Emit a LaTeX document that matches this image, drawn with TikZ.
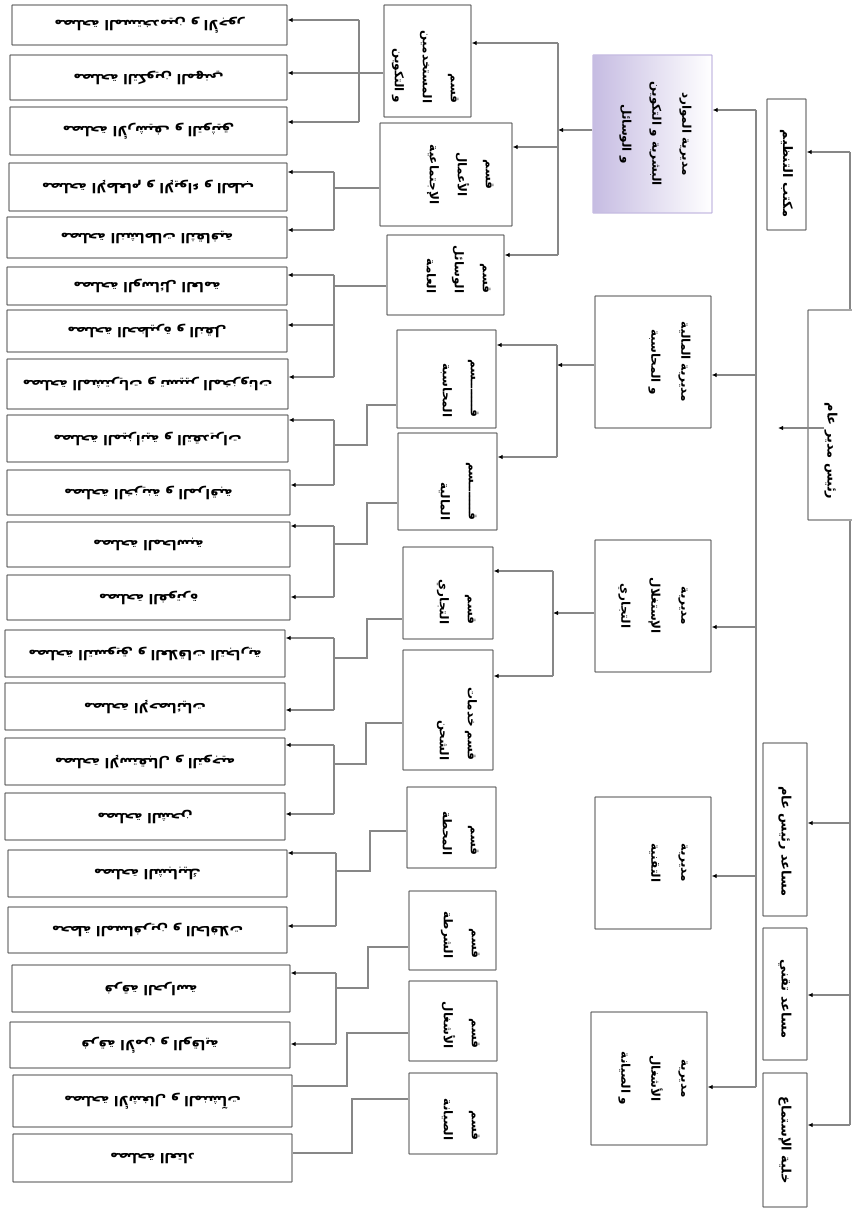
\documentclass[tikz,border=0pt]{standalone}
\usepackage{fontspec}
\usepackage{graphicx}
\usepackage{xcolor}
\usetikzlibrary{arrows.meta}
\newfontfamily\arabicfont[Script=Arabic]{DejaVu Sans}
\TeXXeTstate=1
\newcommand{\ar}[1]{\beginR#1\endR}
\newcommand{\vtext}[2]{\rotatebox{-90}{\begin{tabular}{@{}#1@{}}#2\end{tabular}}}
\definecolor{boxgray}{RGB}{120,120,120}
\definecolor{linegray}{RGB}{135,135,135}
\definecolor{lavender}{RGB}{198,188,226}

\begin{document}
\begin{tikzpicture}[x=1pt, y=-1pt,
    box/.style={draw=boxgray, line width=1.3pt, fill=white, inner sep=0pt, rounded corners=0.6pt},
    sv/.style={box, font=\arabicfont\bfseries\fontsize{13.5}{15}\selectfont},
    lnk/.style={draw=linegray, line width=1.3pt},
    arr/.style={lnk, -{Latex[color=black, length=5pt, width=4.5pt]}},
    t1/.style={inner sep=0pt, font=\arabicfont\bfseries\fontsize{13}{15}\selectfont},
    t2/.style={inner sep=0pt, font=\arabicfont\bfseries\fontsize{12}{30}\selectfont},
    t3/.style={inner sep=0pt, font=\arabicfont\bfseries\fontsize{12}{28}\selectfont}]
  \useasboundingbox (0,0) rectangle (851,1209);

  % general management
  \node[box, minimum width=39, minimum height=131] (oOrg) at (786.5,164.5) {};
  \node[box, minimum width=62, minimum height=210] (oCEO) at (839,415) {};
  \node[box, minimum width=44, minimum height=173] (oAsst1) at (785,829.5) {};
  \node[box, minimum width=44, minimum height=132] (oAsst2) at (785,994) {};
  \node[box, minimum width=44, minimum height=134] (oCell) at (785,1140) {};
  \node[t1] (tOrg) at ([yshift=-9pt]oOrg.center) {\rotatebox{-90}{\ar{مكتب التنظيم}}};
  \node[t1] (tCEO) at ([xshift=-8pt,yshift=-36pt]oCEO.center) {\rotatebox{-90}{\ar{رئيس مدير عام}}};
  \node[t1] (tAsst1) at ([yshift=-12pt]oAsst1.center) {\rotatebox{-90}{\ar{مساعد رئيس عام}}};
  \node[t1] (tAsst2) at ([yshift=-5pt]oAsst2.center) {\rotatebox{-90}{\ar{مساعد تقني}}};
  \node[t1] (tCell) at (oCell.center) {\rotatebox{-90}{\ar{خلية الإستماع}}};

  % directorates
  \node[box, draw=lavender, left color=lavender, right color=white, minimum width=119, minimum height=158] (dHR) at (652.5,134) {};
  \node[box, minimum width=116, minimum height=132] (dFin) at (653,362) {};
  \node[box, minimum width=116, minimum height=132] (dCom) at (653,606) {};
  \node[box, minimum width=116, minimum height=132] (dTech) at (653,863) {};
  \node[box, minimum width=116, minimum height=133] (dWorks) at (649,1078.5) {};
  \node[t2, anchor=east] (tHR) at ([xshift=-9pt]dHR.east) {\vtext{c}{\ar{مديرية الموارد}\\\ar{البشرية و التكوين}\\\ar{و الوسائل}}};
  \node[t2, anchor=east] (tFin) at ([xshift=-9pt]dFin.east) {\vtext{c}{\ar{مديرية المالية}\\\ar{و المحاسبة}}};
  \node[t2, anchor=east] (tCom) at ([xshift=-9pt]dCom.east) {\vtext{c}{\ar{مديرية}\\\ar{الإستغلال}\\\ar{التجاري}}};
  \node[t2, anchor=east] (tTech) at ([xshift=-9pt]dTech.east) {\vtext{c}{\ar{مديرية}\\\ar{التقنية}}};
  \node[t2, anchor=east] (tWorks) at ([xshift=-5pt]dWorks.east) {\vtext{c}{\ar{مديرية}\\\ar{الأشغال}\\\ar{و الصيانة}}};

  % departments
  \node[box, minimum width=87, minimum height=112] (sA) at (427.5,61) {};
  \node[box, minimum width=132, minimum height=103] (sB) at (446,174.5) {};
  \node[box, minimum width=117, minimum height=80] (sC) at (445.5,275) {};
  \node[box, minimum width=99, minimum height=98] (sD) at (446.5,379) {};
  \node[box, minimum width=99, minimum height=97] (sE) at (447.5,481.5) {};
  \node[box, minimum width=90, minimum height=92] (sF) at (448,593) {};
  \node[box, minimum width=90, minimum height=120] (sG) at (448,710) {};
  \node[box, minimum width=89, minimum height=81] (sH) at (451.5,827.5) {};
  \node[box, minimum width=87, minimum height=79] (sI) at (452.5,930.5) {};
  \node[box, minimum width=88, minimum height=80] (sJ) at (453,1021) {};
  \node[box, minimum width=88, minimum height=81] (sK) at (453,1113.5) {};
  \node[t3, anchor=south east] (tA) at ([xshift=-1pt,yshift=14pt]sA.south east) {\vtext{r}{\ar{قسم}\\\ar{المستخدمين}\\\ar{و التكوين}}};
  \node[t3, anchor=east] (tB) at ([xshift=-7pt]sB.east) {\vtext{c}{\ar{قسم}\\\ar{الأعمال}\\\ar{الإجتماعية}}};
  \node[t3, anchor=south east] (tC) at ([xshift=-2pt,yshift=22pt]sC.south east) {\vtext{r}{\ar{قسم}\\\ar{الوسائل}\\\ar{العامة}}};
  \node[t3, anchor=south east] (tD) at ([xshift=-6pt,yshift=11pt]sD.south east) {\vtext{r}{\ar{قـــــــسم}\\\ar{المحاسبة}}};
  \node[t3, anchor=south east] (tE) at ([xshift=-9pt,yshift=10pt]sE.south east) {\vtext{r}{\ar{قـــــــسم}\\\ar{المالية}}};
  \node[t3, anchor=south east] (tF) at ([xshift=-6pt,yshift=15pt]sF.south east) {\vtext{r}{\ar{قسم}\\\ar{التجاري}}};
  \node[t3, anchor=south east] (tG) at ([xshift=-6pt,yshift=10pt]sG.south east) {\vtext{r}{\ar{قسم خدمات}\\\ar{الشحن}}};
  \node[t3, anchor=south east] (tH) at ([xshift=-6pt,yshift=13pt]sH.south east) {\vtext{r}{\ar{قسم}\\\ar{المحطة}}};
  \node[t3, anchor=south east] (tI) at ([xshift=-5pt,yshift=12pt]sI.south east) {\vtext{r}{\ar{قسم}\\\ar{الشرطة}}};
  \node[t3, anchor=south east] (tJ) at ([xshift=-6pt,yshift=13pt]sJ.south east) {\vtext{r}{\ar{قسم}\\\ar{الأشغال}}};
  \node[t3, anchor=south east] (tK) at ([xshift=-6pt,yshift=14pt]sK.south east) {\vtext{r}{\ar{قسم}\\\ar{الصيانة}}};

  % services
  \node[sv, minimum width=275, minimum height=40] (sv1) at (149.5,25) {\rotatebox[origin=c]{180}{\ar{مصلحة المستخدمين و الأجور}}};
  \node[sv, minimum width=277, minimum height=45] (sv2) at (148.5,77.5) {\rotatebox[origin=c]{180}{\ar{مصلحة التكوين المهني}}};
  \node[sv, minimum width=277, minimum height=48] (sv3) at (148.5,131) {\rotatebox[origin=c]{180}{\ar{مصلحة الأرشيف و التوثيق}}};
  \node[sv, minimum width=278, minimum height=48] (sv4) at (148,187) {\rotatebox[origin=c]{180}{\ar{مصلحة الإطعام و الإيواء و الطب}}};
  \node[sv, minimum width=280, minimum height=41] (sv5) at (147,237.5) {\rotatebox[origin=c]{180}{\ar{مصلحة النشاطات الثقافية}}};
  \node[sv, minimum width=280, minimum height=38] (sv6) at (147,286) {\rotatebox[origin=c]{180}{\ar{مصلحة الوسائل العامة}}};
  \node[sv, minimum width=280, minimum height=42] (sv7) at (147,331) {\rotatebox[origin=c]{180}{\ar{مصلحة الحظيرة و النقل}}};
  \node[sv, minimum width=281, minimum height=50] (sv8) at (147.5,384) {\rotatebox[origin=c]{180}{\ar{مصلحة المشتريات و تسيير المخزونات}}};
  \node[sv, minimum width=281, minimum height=47] (sv9) at (147.5,438.5) {\rotatebox[origin=c]{180}{\ar{مصلحة الميزانية و التقديرات}}};
  \node[sv, minimum width=283, minimum height=45] (sv10) at (148.5,492.5) {\rotatebox[origin=c]{180}{\ar{مصلحة الخزينة و المراقبة}}};
  \node[sv, minimum width=283, minimum height=45] (sv11) at (148.5,544.5) {\rotatebox[origin=c]{180}{\ar{مصلحة المحاسبة}}};
  \node[sv, minimum width=283, minimum height=45] (sv12) at (148.5,597.5) {\rotatebox[origin=c]{180}{\ar{مصلحة الفوترة}}};
  \node[sv, minimum width=280, minimum height=47] (sv13) at (145,653.5) {\rotatebox[origin=c]{180}{\ar{مصلحة التسويق و العلاقات التجارية}}};
  \node[sv, minimum width=280, minimum height=47] (sv14) at (145,706.5) {\rotatebox[origin=c]{180}{\ar{مصلحة الإحصائيات}}};
  \node[sv, minimum width=280, minimum height=47] (sv15) at (145,761.5) {\rotatebox[origin=c]{180}{\ar{مصلحة الإستقبال و التوجيه}}};
  \node[sv, minimum width=280, minimum height=47] (sv16) at (145,816.5) {\rotatebox[origin=c]{180}{\ar{مصلحة الشحن}}};
  \node[sv, minimum width=279, minimum height=47] (sv17) at (147.5,873.5) {\rotatebox[origin=c]{180}{\ar{مصلحة الشبابيك}}};
  \node[sv, minimum width=279, minimum height=46] (sv18) at (147.5,930) {\rotatebox[origin=c]{180}{\ar{محطة المسافرين و الحافلات}}};
  \node[sv, minimum width=278, minimum height=47] (sv19) at (151,988.5) {\rotatebox[origin=c]{180}{\ar{فرقة الحراسة}}};
  \node[sv, minimum width=280, minimum height=46] (sv20) at (150,1045) {\rotatebox[origin=c]{180}{\ar{فرقة الأمن و الوقاية}}};
  \node[sv, minimum width=279, minimum height=52] (sv21) at (152.5,1101) {\rotatebox[origin=c]{180}{\ar{مصلحة الأشغال و المنشآت}}};
  \node[sv, minimum width=279, minimum height=48] (sv22) at (152.5,1158) {\rotatebox[origin=c]{180}{\ar{مصلحة العتاد}}};

  % right bus
  \coordinate (jR1) at (850,152);
  \coordinate (jR2) at (850,823);
  \coordinate (jR3) at (850,995);
  \coordinate (jR4) at (850,1125);
  \draw[lnk] (jR1) -- (oCEO.north -| jR1);
  \draw[lnk] (oCEO.south -| jR1) -- (jR4);
  \draw[arr] (jR1) -- (oOrg.east |- jR1);
  \draw[arr] (jR2) -- (oAsst1.east |- jR2);
  \draw[arr] (jR3) -- (oAsst2.east |- jR3);
  \draw[arr] (jR4) -- (oCell.east |- jR4);
  \coordinate (ceoTip) at (778,428);
  \draw[arr] (tCEO.west |- ceoTip) -- (ceoTip);

  % directorates bus
  \coordinate (jM1) at (756,110);
  \coordinate (jM2) at (756,375);
  \coordinate (jM3) at (756,627);
  \coordinate (jM4) at (756,876);
  \coordinate (jM5) at (756,1087);
  \draw[lnk] (jM1) -- (jM5);
  \draw[arr] (jM1) -- (dHR.east |- jM1);
  \draw[arr] (jM2) -- (dFin.east |- jM2);
  \draw[arr] (jM3) -- (dCom.east |- jM3);
  \draw[arr] (jM4) -- (dTech.east |- jM4);
  \draw[arr] (jM5) -- (dWorks.east |- jM5);

  % directorates to departments
  \coordinate (jA0) at (558,130);
  \coordinate (jA1) at (558,43);
  \coordinate (jA2) at (558,147);
  \coordinate (jA3) at (558,255);
  \draw[arr] (dHR.west |- jA0) -- (jA0);
  \draw[lnk] (jA1) -- (jA3);
  \draw[arr] (jA1) -- (sA.east |- jA1);
  \draw[arr] (jA2) -- (sB.east |- jA2);
  \draw[arr] (jA3) -- (sC.east |- jA3);

  \coordinate (jD0) at (557,365);
  \coordinate (jD1) at (557,345);
  \coordinate (jD2) at (557,457);
  \draw[arr] (dFin.west |- jD0) -- (jD0);
  \draw[lnk] (jD1) -- (jD2);
  \draw[arr] (jD1) -- (sD.east |- jD1);
  \draw[arr] (jD2) -- (sE.east |- jD2);

  \coordinate (jF0) at (553,613);
  \coordinate (jF1) at (553,571);
  \coordinate (jF2) at (553,676);
  \draw[arr] (dCom.west |- jF0) -- (jF0);
  \draw[lnk] (jF1) -- (jF2);
  \draw[arr] (jF1) -- (sF.east |- jF1);
  \draw[arr] (jF2) -- (sG.east |- jF2);

  % departments to services
  \coordinate (kA0) at (359,73);
  \coordinate (kA1) at (359,20);
  \coordinate (kA3) at (359,122);
  \draw[arr] (sA.west |- kA0) -- (sv2.east |- kA0);
  \draw[lnk] (kA1) -- (kA3);
  \draw[arr] (kA1) -- (sv1.east |- kA1);
  \draw[arr] (kA3) -- (sv3.east |- kA3);

  \coordinate (kB0) at (334,188);
  \coordinate (kB1) at (334,172);
  \coordinate (kB2) at (334,230);
  \draw[lnk] (sB.west |- kB0) -- (kB0);
  \draw[lnk] (kB1) -- (kB2);
  \draw[arr] (kB1) -- (sv4.east |- kB1);
  \draw[arr] (kB2) -- (sv5.east |- kB2);

  \coordinate (kC0) at (334,286);
  \coordinate (kC1) at (334,275);
  \coordinate (kC2) at (334,325);
  \coordinate (kC3) at (334,377);
  \draw[lnk] (sC.west |- kC0) -- (kC0);
  \draw[lnk] (kC1) -- (kC3);
  \draw[arr] (kC1) -- (sv6.east |- kC1);
  \draw[arr] (kC2) -- (sv7.east |- kC2);
  \draw[arr] (kC3) -- (sv8.east |- kC3);

  \coordinate (eD) at (367,405);
  \coordinate (kD0) at (334,445);
  \coordinate (kD1) at (334,420);
  \coordinate (kD2) at (334,485);
  \draw[lnk] (sD.west |- eD) -- (eD) |- (kD0);
  \draw[lnk] (kD1) -- (kD2);
  \draw[arr] (kD1) -- (sv9.east |- kD1);
  \draw[arr] (kD2) -- (sv10.east |- kD2);

  \coordinate (eE) at (367,503);
  \coordinate (kE0) at (334,544);
  \coordinate (kE1) at (334,526);
  \coordinate (kE2) at (334,597);
  \draw[lnk] (sE.west |- eE) -- (eE) |- (kE0);
  \draw[lnk] (kE1) -- (kE2);
  \draw[arr] (kE1) -- (sv11.east |- kE1);
  \draw[arr] (kE2) -- (sv12.east |- kE2);

  \coordinate (eF) at (367,619);
  \coordinate (kF0) at (334,658);
  \coordinate (kF1) at (334,638);
  \coordinate (kF2) at (334,710);
  \draw[lnk] (sF.west |- eF) -- (eF) |- (kF0);
  \draw[lnk] (kF1) -- (kF2);
  \draw[arr] (kF1) -- (sv13.east |- kF1);
  \draw[arr] (kF2) -- (sv14.east |- kF2);

  \coordinate (eG) at (366,723);
  \coordinate (kG0) at (334,764);
  \coordinate (kG1) at (334,745);
  \coordinate (kG2) at (334,814);
  \draw[lnk] (sG.west |- eG) -- (eG) |- (kG0);
  \draw[lnk] (kG1) -- (kG2);
  \draw[arr] (kG1) -- (sv15.east |- kG1);
  \draw[arr] (kG2) -- (sv16.east |- kG2);

  \coordinate (eH) at (370,831);
  \coordinate (kH0) at (336,871);
  \coordinate (kH1) at (336,853);
  \coordinate (kH2) at (336,926);
  \draw[lnk] (sH.west |- eH) -- (eH) |- (kH0);
  \draw[lnk] (kH1) -- (kH2);
  \draw[arr] (kH1) -- (sv17.east |- kH1);
  \draw[arr] (kH2) -- (sv18.east |- kH2);

  \coordinate (eI) at (368,947);
  \coordinate (kI0) at (336,988);
  \coordinate (kI1) at (336,973);
  \coordinate (kI2) at (336,1044);
  \draw[lnk] (sI.west |- eI) -- (eI) |- (kI0);
  \draw[lnk] (kI1) -- (kI2);
  \draw[arr] (kI1) -- (sv19.east |- kI1);
  \draw[arr] (kI2) -- (sv20.east |- kI2);

  \coordinate (eJ) at (347,1033);
  \draw[lnk] (sJ.west |- eJ) -- (eJ) |- ([yshift=15pt]sv21.east);
  \coordinate (eK) at (352,1099);
  \draw[lnk] (sK.west |- eK) -- (eK) |- ([yshift=5pt]sv22.east);
\end{tikzpicture}
\end{document}
